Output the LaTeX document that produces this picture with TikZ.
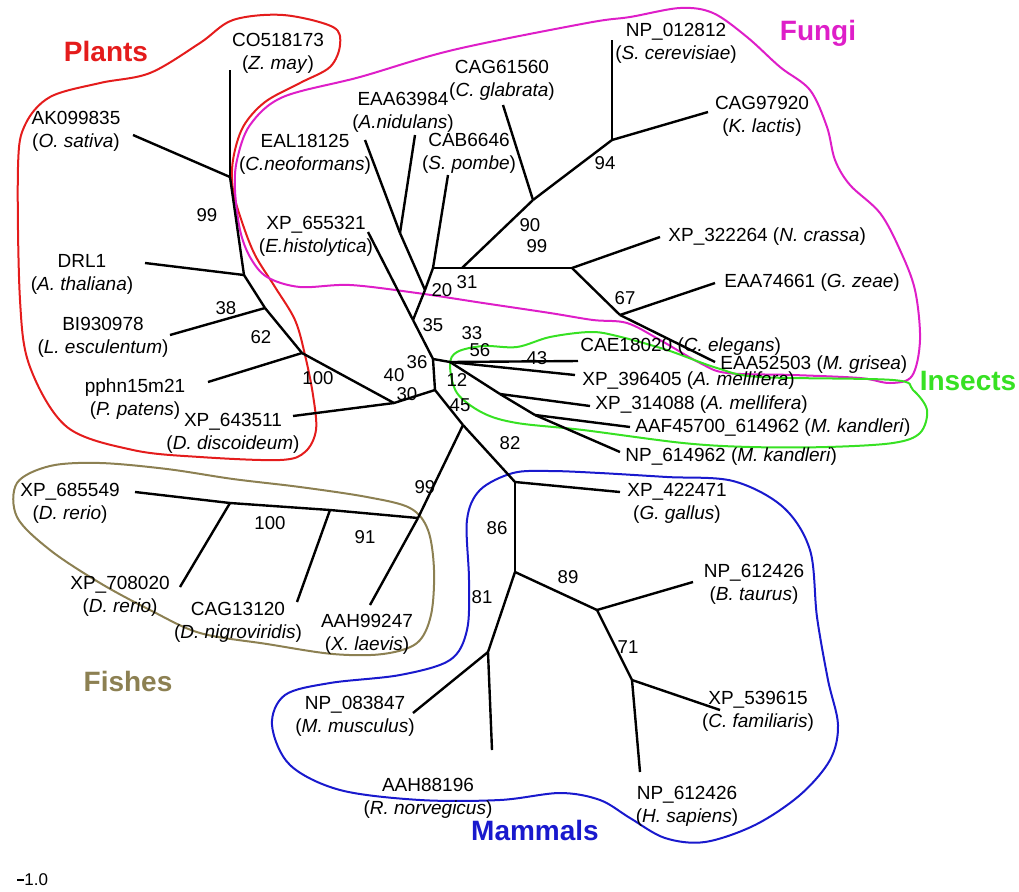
\documentclass[tikz,border=0pt]{standalone}
\usepackage{fontspec}
\setmainfont{Liberation Sans}
\definecolor{plantred}{RGB}{228,28,28}
\definecolor{fungimag}{RGB}{222,30,200}
\definecolor{insectgreen}{RGB}{55,225,35}
\definecolor{fisholive}{RGB}{140,128,82}
\definecolor{mammblue}{RGB}{25,25,205}
\begin{document}
\begin{tikzpicture}[x=0.5pt,y=-0.5pt,
	taxon/.style={font=\fontsize{9.5}{11.5}\selectfont, align=center, inner sep=0pt},
	taxonw/.style={taxon, anchor=west},
	boot/.style={font=\fontsize{9.3}{10}\selectfont, inner sep=0pt},
	branch/.style={line width=1.2pt, line join=round},
	hull/.style={line width=1pt, smooth cycle, tension=0.55},
	clade/.style={font=\fontsize{14}{16}\selectfont\bfseries, inner sep=0pt}]
		\useasboundingbox (0,0) rectangle (1019,891);
		% clade outlines
		\draw[hull, plantred] plot coordinates {(233,20) (283,15) (333,27) (340,45) (330,67) (300,83) (265,102) (243,127) (233,160) (233,190) (242,222) (255,255) (275,287) (295,320) (305,355) (313,395) (316,430) (305,452) (280,460) (200,457) (133,450) (67,427) (30,367) (20,300) (18,167) (25,125) (50,97) (100,83) (150,73) (200,43)};
		\draw[hull, fungimag] plot coordinates {(235,190) (237,160) (250,125) (283,97) (360,77) (453,50) (587,23) (630,17) (680,8) (713,13) (747,37) (780,67) (810,90) (827,127) (835,160) (850,185) (880,213) (900,250) (915,290) (920,340) (912,376) (890,383) (860,378) (793,375) (727,373) (700,363) (660,340) (627,323) (593,320) (550,313) (483,303) (417,293) (350,285) (300,287) (267,277) (250,257) (240,230)};
		\draw[hull, insectgreen] plot coordinates {(450,365) (457,352) (483,346) (517,347) (550,337) (590,332) (617,336) (667,350) (717,368) (760,377) (893,380) (913,390) (927,410) (920,433) (893,443) (827,447) (750,447) (683,443) (583,430) (517,423) (483,413) (457,393)};
		\draw[hull, fisholive] plot coordinates {(17,483) (50,466) (100,463) (167,469) (233,479) (300,487) (367,497) (410,508) (428,530) (434,570) (431,615) (417,643) (383,654) (333,654) (267,644) (200,633) (150,610) (100,583) (50,550) (17,517)};
		\draw[hull, mammblue] plot coordinates {(513,473) (550,471) (600,473) (667,477) (733,481) (783,507) (810,550) (817,617) (828,680) (838,725) (830,760) (800,795) (755,825) (705,842) (665,838) (630,818) (600,800) (560,793) (500,800) (420,800) (340,790) (290,765) (272,725) (285,695) (330,683) (400,675) (450,660) (467,630) (469,580) (467,520) (480,490)};
		% inner nodes
		\coordinate (P1) at (230,177);
		\coordinate (P2) at (244,275);
		\coordinate (P3) at (265,308);
		\coordinate (P4) at (302,353);
		\coordinate (P5) at (394,403);
		\coordinate (C1) at (435,390);
		\coordinate (C2) at (433,359);
		\coordinate (C3) at (463,425);
		\coordinate (F0) at (413,320);
		\coordinate (FC) at (425,290);
		\coordinate (FA) at (400,233);
		\coordinate (FB) at (433,268);
		\coordinate (H1) at (462,268);
		\coordinate (Y1) at (533,200);
		\coordinate (Y2) at (612,140);
		\coordinate (FD) at (572,268);
		\coordinate (G1) at (620,315);
		\coordinate (I1) at (450,362);
		\coordinate (I2) at (500,394);
		\coordinate (I3) at (535,415);
		\coordinate (W0) at (418,518);
		\coordinate (W1) at (330,510);
		\coordinate (W2) at (230,503);
		\coordinate (M0) at (515,482);
		\coordinate (M1) at (515,572);
		\coordinate (M2) at (597,610);
		\coordinate (M3) at (632,680);
		\coordinate (M4) at (488,652);
		% leaf ends
		\coordinate (lCO) at (230,70);
		\coordinate (lAK) at (133,135);
		\coordinate (lDRL) at (145,263);
		\coordinate (lBI) at (170,335);
		\coordinate (lPP) at (208,382);
		\coordinate (lXD) at (293,416);
		\coordinate (lEAL) at (365,140);
		\coordinate (lEAN) at (415,135);
		\coordinate (lCAB) at (448,175);
		\coordinate (lXEH) at (368,232);
		\coordinate (lCAG) at (503,105);
		\coordinate (lNPS) at (612,40);
		\coordinate (lCAK) at (708,112);
		\coordinate (lXNC) at (660,237);
		\coordinate (lEGZ) at (715,283);
		\coordinate (lEMG) at (715,362);
		\coordinate (lCAE) at (578,361);
		\coordinate (lXAa) at (575,375);
		\coordinate (lXAb) at (590,406);
		\coordinate (lAAF) at (630,427);
		\coordinate (lNPM) at (620,452);
		\coordinate (lXDa) at (135,492);
		\coordinate (lXDb) at (180,587);
		\coordinate (lCDN) at (297,602);
		\coordinate (lAXL) at (370,605);
		\coordinate (lXGG) at (620,492);
		\coordinate (lNBT) at (693,582);
		\coordinate (lXCF) at (720,710);
		\coordinate (lNHS) at (640,772);
		\coordinate (lNMM) at (413,713);
		\coordinate (lARN) at (492,750);
		% branches
		\draw[branch] (lCO) -- (P1);
		\draw[branch] (lAK) -- (P1);
		\draw[branch] (P1) -- (P2);
		\draw[branch] (lDRL) -- (P2);
		\draw[branch] (P2) -- (P3);
		\draw[branch] (lBI) -- (P3);
		\draw[branch] (P3) -- (P4);
		\draw[branch] (lPP) -- (P4);
		\draw[branch] (P4) -- (P5);
		\draw[branch] (lXD) -- (P5);
		\draw[branch] (P5) -- (C1);
		\draw[branch] (C1) -- (C2);
		\draw[branch] (C1) -- (C3);
		\draw[branch] (C2) -- (F0);
		\draw[branch] (lXEH) -- (F0);
		\draw[branch] (F0) -- (FC);
		\draw[branch] (FC) -- (FA);
		\draw[branch] (lEAL) -- (FA);
		\draw[branch] (lEAN) -- (FA);
		\draw[branch] (FC) -- (FB);
		\draw[branch] (lCAB) -- (FB);
		\draw[branch] (FB) -- (H1);
		\draw[branch] (H1) -- (FD);
		\draw[branch] (H1) -- (Y1);
		\draw[branch] (lCAG) -- (Y1);
		\draw[branch] (Y1) -- (Y2);
		\draw[branch] (lNPS) -- (Y2);
		\draw[branch] (lCAK) -- (Y2);
		\draw[branch] (FD) -- (lXNC);
		\draw[branch] (FD) -- (G1);
		\draw[branch] (G1) -- (lEGZ);
		\draw[branch] (G1) -- (lEMG);
		\draw[branch] (C2) -- (I1);
		\draw[branch] (I1) -- (lCAE);
		\draw[branch] (I1) -- (lXAa);
		\draw[branch] (I1) -- (I2);
		\draw[branch] (I2) -- (lXAb);
		\draw[branch] (I2) -- (I3);
		\draw[branch] (I3) -- (lAAF);
		\draw[branch] (I3) -- (lNPM);
		\draw[branch] (C3) -- (W0);
		\draw[branch] (W0) -- (lAXL);
		\draw[branch] (W0) -- (W1);
		\draw[branch] (W1) -- (lCDN);
		\draw[branch] (W1) -- (W2);
		\draw[branch] (W2) -- (lXDb);
		\draw[branch] (W2) -- (lXDa);
		\draw[branch] (C3) -- (M0);
		\draw[branch] (M0) -- (lXGG);
		\draw[branch] (M0) -- (M1);
		\draw[branch] (M1) -- (M2);
		\draw[branch] (M2) -- (lNBT);
		\draw[branch] (M2) -- (M3);
		\draw[branch] (M3) -- (lXCF);
		\draw[branch] (M3) -- (lNHS);
		\draw[branch] (M1) -- (M4);
		\draw[branch] (M4) -- (lNMM);
		\draw[branch] (M4) -- (lARN);
		% taxa
		\node[taxon] (tCO) at (278,53) {CO518173\\(\textit{Z. may})};
		\node[taxon] (tAK) at (76,131) {AK099835\\(\textit{O. sativa})};
		\node[taxon] (tDRL) at (82,274) {DRL1\\(\textit{A. thaliana})};
		\node[taxon] (tBI) at (103,337) {BI930978\\(\textit{L. esculentum})};
		\node[taxon] (tPP) at (135,399) {pphn15m21\\(\textit{P. patens})};
		\node[taxon] (tXD) at (233,433) {XP\_643511\\(\textit{D. discoideum})};
		\node[taxon] (tEAL) at (305,154) {EAL18125\\(\textit{C.neoformans})};
		\node[taxon] (tEAN) at (403,112) {EAA63984\\(\textit{A.nidulans})};
		\node[taxon] (tCAB) at (469,153) {CAB6646\\(\textit{S. pombe})};
		\node[taxon] (tXEH) at (316,236) {XP\_655321\\(\textit{E.histolytica})};
		\node[taxon] (tCAG) at (502,80) {CAG61560\\(\textit{C. glabrata})};
		\node[taxon] (tNPS) at (676,43) {NP\_012812\\(\textit{S. cerevisiae})};
		\node[taxon] (tCAK) at (762,116) {CAG97920\\(\textit{K. lactis})};
		\node[taxonw] (tXNC) at (668,237) {XP\_322264 (\textit{N. crassa})};
		\node[taxonw] (tEGZ) at (724,283) {EAA74661 (\textit{G. zeae})};
		\node[taxonw] (tEMG) at (720,365) {EAA52503 (\textit{M. grisea})};
		\node[taxonw] (tCAE) at (580,347) {CAE18020 (\textit{C. elegans})};
		\node[taxonw] (tXAa) at (582,381) {XP\_396405 (\textit{A. mellifera})};
		\node[taxonw] (tXAb) at (595,405) {XP\_314088 (\textit{A. mellifera})};
		\node[taxonw] (tAAF) at (635,428) {AAF45700\_614962 (\textit{M. kandleri})};
		\node[taxonw] (tNPM) at (625,457) {NP\_614962 (\textit{M. kandleri})};
		\node[taxon] (tXDa) at (70,503) {XP\_685549\\(\textit{D. rerio})};
		\node[taxon] (tXDb) at (120,596) {XP\_708020\\(\textit{D. rerio})};
		\node[taxon] (tCDN) at (238,622) {CAG13120\\(\textit{D. nigroviridis})};
		\node[taxon] (tAXL) at (367,634) {AAH99247\\(\textit{X. laevis})};
		\node[taxon] (tXGG) at (677,503) {XP\_422471\\(\textit{G. gallus})};
		\node[taxon] (tNBT) at (754,584) {NP\_612426\\(\textit{B. taurus})};
		\node[taxon] (tXCF) at (758,711) {XP\_539615\\(\textit{C. familiaris})};
		\node[taxon] (tNHS) at (687,806) {NP\_612426\\(\textit{H. sapiens})};
		\node[taxon] (tNMM) at (355,716) {NP\_083847\\(\textit{M. musculus})};
		\node[taxon] (tARN) at (428,798) {AAH88196\\(\textit{R. norvegicus})};
		% bootstrap values
		\node[boot] (b1) at (207,215) {99};
		\node[boot] (b2) at (226,308) {38};
		\node[boot] (b3) at (261,337) {62};
		\node[boot] (b4) at (318,378) {100};
		\node[boot] (b5) at (394,375) {40};
		\node[boot] (b6) at (407,394) {30};
		\node[boot] (b7) at (417,362) {36};
		\node[boot] (b8) at (433,325) {35};
		\node[boot] (b9) at (442,290) {20};
		\node[boot] (b10) at (467,282) {31};
		\node[boot] (b11) at (530,225) {90};
		\node[boot] (b12) at (537,246) {99};
		\node[boot] (b13) at (605,163) {94};
		\node[boot] (b14) at (625,298) {67};
		\node[boot] (b15) at (472,333) {33};
		\node[boot] (b16) at (480,350) {56};
		\node[boot] (b17) at (537,358) {43};
		\node[boot] (b18) at (457,380) {12};
		\node[boot] (b19) at (460,405) {45};
		\node[boot] (b20) at (510,443) {82};
		\node[boot] (b21) at (425,487) {99};
		\node[boot] (b22) at (270,523) {100};
		\node[boot] (b23) at (365,537) {91};
		\node[boot] (b24) at (497,528) {86};
		\node[boot] (b25) at (568,577) {89};
		\node[boot] (b26) at (482,597) {81};
		\node[boot] (b27) at (628,647) {71};
		% clade names
		\node[clade, text=plantred] (gPlants) at (106,51) {Plants};
		\node[clade, text=fungimag] (gFungi) at (818,33) {Fungi};
		\node[clade, text=insectgreen] (gInsects) at (968,381) {Insects};
		\node[clade, text=fisholive] (gFishes) at (128,681) {Fishes};
		\node[clade, text=mammblue] (gMammals) at (535,830) {Mammals};
		% scale bar
		\coordinate (s0) at (17,880);
		\coordinate (s1) at (24,880);
		\draw[line width=1.2pt] (s0) -- (s1);
		\node[boot, anchor=south west, font=\fontsize{8.5}{9}\selectfont] (sLabel) at (24,886) {1.0};
\end{tikzpicture}
\end{document}
